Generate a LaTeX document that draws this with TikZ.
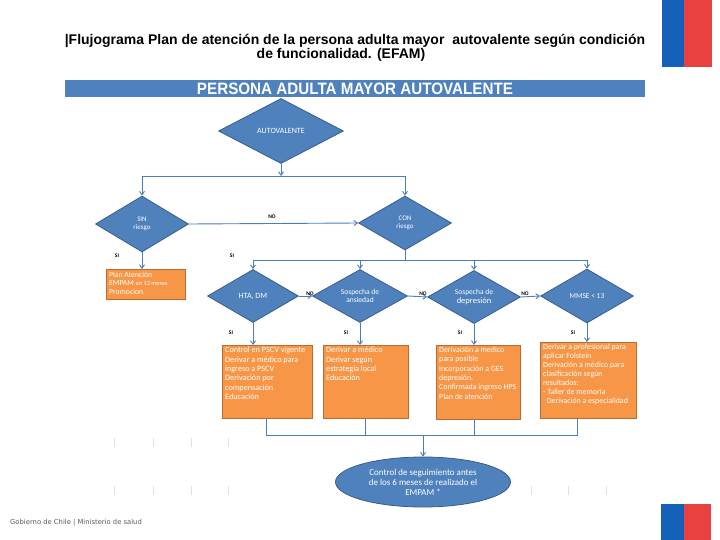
\documentclass[tikz,border=0pt]{standalone}
\usepackage{fontspec}
\setmainfont{Carlito}
\newfontfamily\arialf{Liberation Sans}
\newfontfamily\footf{DejaVu Sans}
\usetikzlibrary{shapes.geometric,arrows.meta,calc}
\definecolor{bfill}{HTML}{4F81BD}
\definecolor{bborder}{HTML}{385D8A}
\definecolor{ofill}{HTML}{F79646}
\definecolor{oborder}{HTML}{B66D31}
\definecolor{conncol}{HTML}{4A7EBB}
\definecolor{flagblue}{HTML}{1560B8}
\definecolor{flagred}{HTML}{E8413F}
\tikzset{
  dia/.style={diamond, draw=bborder, fill=bfill, line width=0.8pt, text=white, inner sep=0pt, align=center, font=\fontsize{7.5}{8.5}\selectfont},
  obox/.style={rectangle, draw=oborder, fill=ofill, line width=0.8pt, inner sep=0pt, anchor=north west},
  otext/.style={anchor=north west, inner sep=0pt, text=white, align=left, font=\fontsize{8.2}{9.3}\selectfont},
  conn/.style={draw=conncol, line width=0.9pt},
  arr/.style={conn, -{Straight Barb[length=3.5pt,width=5pt]}},
  lab/.style={font=\bfseries\fontsize{5.5}{6}\selectfont, inner sep=0pt, text=black},
  tick/.style={draw=black!12, line width=0.5pt}
}
\begin{document}
\begin{tikzpicture}[x=1pt,y=-1pt]
\useasboundingbox (0,0) rectangle (720,540);
% flags
\fill[flagblue] (662,0) rectangle (684,67);
\fill[flagred] (684,0) rectangle (712,67);
\fill[flagblue] (661,504) rectangle (684,540);
\fill[flagred] (684,504) rectangle (711,540);
% title
\node[font=\arialf\bfseries\fontsize{14}{16}\selectfont, inner sep=0pt, anchor=base] (t1) at (355,45) {|Flujograma Plan de atención de la persona adulta mayor\ \ autovalente según condición};
\node[font=\arialf\bfseries\fontsize{14}{16}\selectfont, inner sep=0pt, anchor=base] (t2) at (341,59) {de funcionalidad. (EFAM)};
% banner
\node[fill=bfill, minimum width=580, minimum height=17, inner sep=0pt, text=white] (banner) at (355,88.5) {\resizebox{316pt}{11.5pt}{\arialf\bfseries PERSONA ADULTA MAYOR AUTOVALENTE}};
% diamonds
\node[dia, minimum width=125, minimum height=65, font=\fontsize{8}{9}\selectfont] (auto) at (281,131) {AUTOVALENTE};
\node[dia, minimum width=93, minimum height=56, font=\fontsize{7}{8.5}\selectfont] (sin) at (142,224) {SIN\\riesgo};
\node[dia, minimum width=93, minimum height=54, font=\fontsize{7}{8.5}\selectfont] (con) at (405,223) {CON\\riesgo};
\node[dia, minimum width=91, minimum height=53, font=\fontsize{8}{9}\selectfont] (hta) at (253,296) {HTA, DM};
\node[dia, minimum width=95, minimum height=53] (ans) at (360,296) {Sospecha de\\ansiedad};
\node[dia, minimum width=93, minimum height=53] (dep) at (474,297) {Sospecha de\\{\fontsize{8.5}{10}\selectfont depresión}};
\node[dia, minimum width=93, minimum height=54] (mmse) at (587,296) {MMSE < 13};
% orange boxes
\node[obox, minimum width=79, minimum height=30] (plan) at (106,269) {};
\node[otext, font=\fontsize{7.7}{8.5}\selectfont] (plant) at (109,271.5) {Plan Atención\\EMPAM {\fontsize{6.3}{8.5}\selectfont en 12 meses}\\Promocion};
\node[obox, minimum width=90, minimum height=73] (b1) at (222,345) {};
\node[otext] (b1t) at (225,347) {Control en PSCV vigente\\Derivar a médico para\\ingreso a PSCV\\Derivación por\\compensación\\Educación};
\node[obox, minimum width=85, minimum height=73] (b2) at (323,345) {};
\node[otext] (b2t) at (326,347) {Derivar a médico\\Derivar según\\estrategia local\\Educación};
\node[obox, minimum width=84, minimum height=74] (b3) at (436,345) {};
\node[otext, font=\fontsize{7.9}{9.3}\selectfont] (b3t) at (439,347) {Derivación a medico\\para posible\\incorporación a GES\\depresión.\\Confirmada ingreso HPS\\Plan de atención};
\node[obox, minimum width=96, minimum height=76] (b4) at (540,342) {};
\node[otext, font=\fontsize{7.9}{9}\selectfont] (b4t) at (543,344) {Derivar a profesional para\\aplicar Folstein\\Derivación a médico para\\clasificación según\\resultados:\\- Taller de memoria\\\ \ Derivación a especialidad};
% ellipse
\node[ellipse, draw=bborder, fill=bfill, line width=0.8pt, minimum width=175, minimum height=50, inner sep=0pt, text=white, align=center, font=\fontsize{9}{10}\selectfont] (ell) at (423,482) {Control de seguimiento antes\\de los 6 meses de realizado el\\EMPAM *};
% connectors top
\coordinate (j1) at (281,176);
\draw[arr] (auto.south) -- (j1);
\draw[conn] (sin.north |- j1) -- (con.north |- j1);
\draw[arr] (sin.north |- j1) -- (sin.north);
\draw[arr] (con.north |- j1) -- (con.north);
\draw[arr] (sin.east) -- (con.west);
\draw[arr] (sin.south) -- (sin.south |- plan.north);
% row
\coordinate (j2) at (405,260);
\draw[conn] (con.south) -- (j2);
\draw[conn] (hta.north |- j2) -- (mmse.north |- j2);
\draw[arr] (hta.north |- j2) -- (hta.north);
\draw[arr] (ans.north |- j2) -- (ans.north);
\draw[arr] (dep.north |- j2) -- (dep.north);
\draw[arr] (mmse.north |- j2) -- (mmse.north);
\draw[arr] (hta.east) -- (ans.west);
\draw[arr] (ans.east) -- (dep.west);
\draw[arr] (dep.east) -- (mmse.west);
\draw[arr] (hta.south) -- (hta.south |- b1.north);
\draw[arr] (ans.south) -- (ans.south |- b2.north);
\draw[arr] (dep.south) -- (dep.south |- b3.north);
\draw[arr] (mmse.south) -- (mmse.south |- b4.north);
% bottom join
\coordinate (j3) at (423,435);
\draw[conn] ([xshift=-1pt]b1.south) -- ([xshift=-1pt]b1.south |- j3) -- ([xshift=-11pt]b4.south |- j3) -- ([xshift=-11pt]b4.south);
\draw[conn] (b2.south) -- (b2.south |- j3);
\draw[conn] ([xshift=-4pt]b3.south) -- ([xshift=-4pt]b3.south |- j3);
\draw[arr] (j3) -- (ell.north);
% labels
\node[lab] (l1) at (272,217) {NO};
\node[lab] (l2) at (310,294) {NO};
\node[lab] (l3) at (423,294) {NO};
\node[lab] (l4) at (525,294) {NO};
\node[lab] (s1) at (117,256) {SI};
\node[lab] (s2) at (232,256) {SI};
\node[lab] (s3) at (231,333) {SI};
\node[lab] (s4) at (346,333) {SI};
\node[lab] (s5) at (460,333) {SI};
\node[lab] (s6) at (573,333) {SI};
% faint ticks
\foreach \x in {114,153,191,228} {\draw[tick] (\x,438) -- (\x,447); \draw[tick] (\x,486) -- (\x,495);}
\foreach \x in {531,568,606} {\draw[tick] (\x,486) -- (\x,495);}
% footer
\node[anchor=west, inner sep=0pt, text=black!65, font=\footf\fontsize{6.8}{8}\selectfont] (foot) at (10,523) {Gobierno de Chile | Ministerio de salud};
\end{tikzpicture}
\end{document}
